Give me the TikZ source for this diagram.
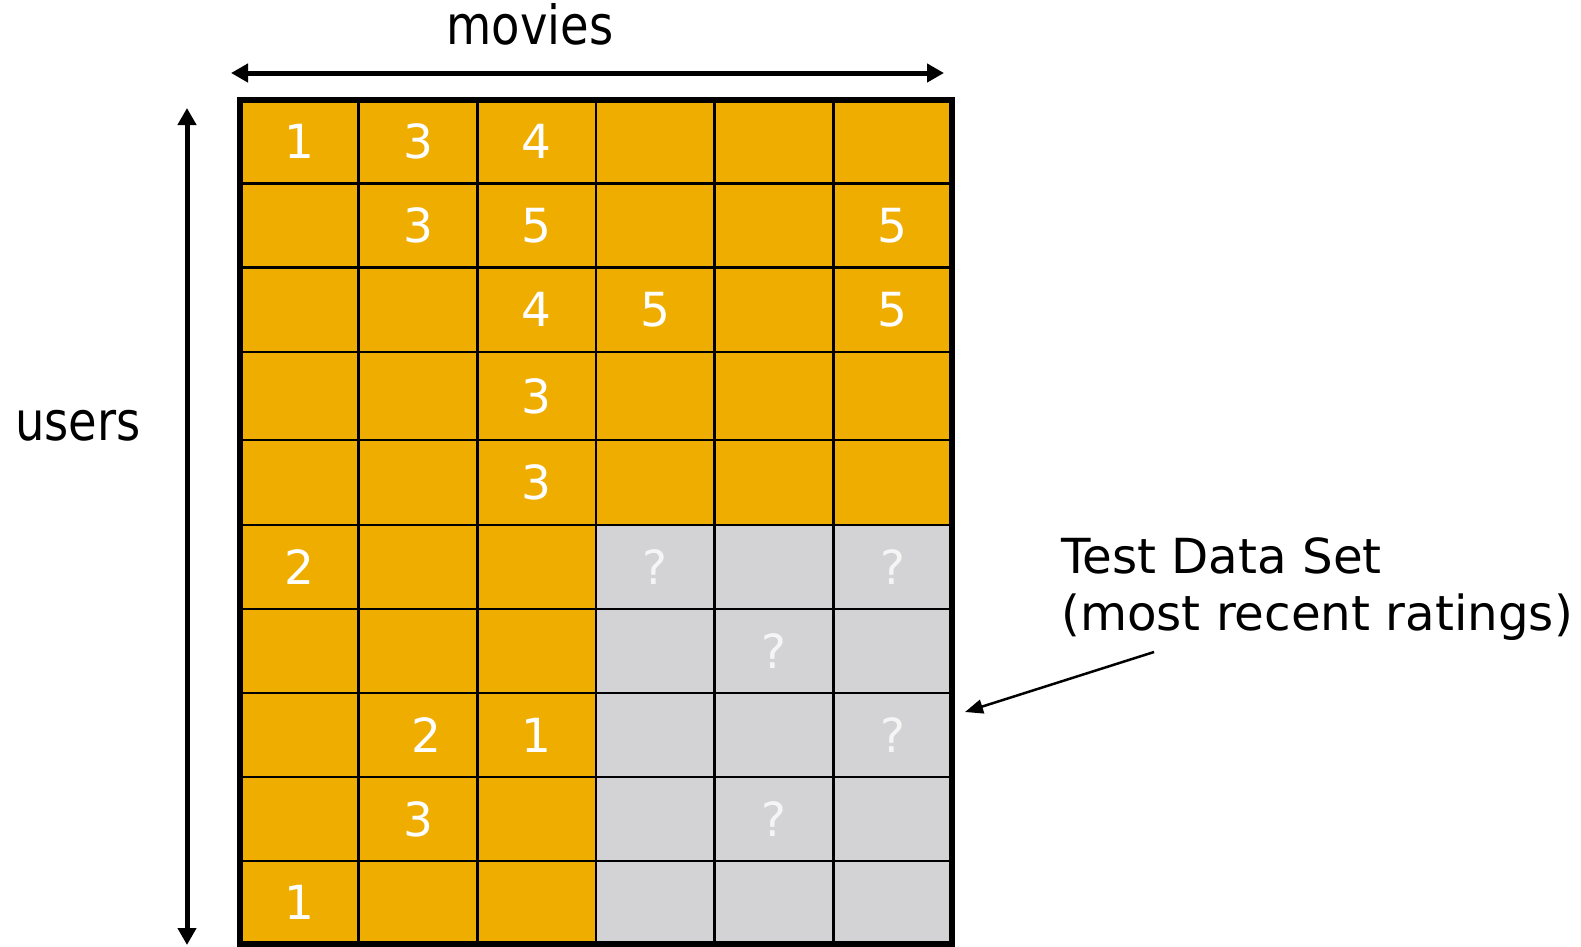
\documentclass[tikz,border=0pt]{standalone}
\usepackage{fontspec}
\setmainfont{DejaVu Sans}
\usetikzlibrary{arrows.meta}
\definecolor{gridorange}{HTML}{EFAD00}
\definecolor{testgray}{HTML}{D3D3D5}
\begin{document}
\begin{tikzpicture}[x=1pt,y=-1pt,
  cellnum/.style={text=white, font=\fontsize{47}{56}\selectfont, inner sep=0pt},
  qmark/.style={text=white!96!black, font=\fontsize{47}{56}\selectfont, inner sep=0pt},
  axislabel/.style={font=\fontsize{54}{64}\selectfont, inner sep=0pt, anchor=base},
  testlabel/.style={font=\fontsize{48.3}{58}\selectfont, inner sep=0pt, anchor=base west},
  bigarrow/.style={line width=5pt, {Triangle[length=17pt,width=18pt]}-{Triangle[length=17pt,width=18pt]}},
  thinarrow/.style={line width=2.5pt, -{Triangle[length=18pt,width=14pt]}},
  gridline/.style={line width=2.5pt, black},
  gridborder/.style={line width=5.5pt, black}
]
\useasboundingbox (0,0) rectangle (1581,946);
\def\cw{118.667}
% fills
\fill[gridorange] (240,100) rectangle (952,944);
\fill[testgray] ({240+3*\cw},525) rectangle (952,944);
% inner grid lines
\foreach \i in {1,...,5} {
  \draw[gridline] ({240+\i*\cw},100) -- ({240+\i*\cw},944);
}
\foreach \y in {183.5,267.5,352,440,525,609,693,777,861} {
  \draw[gridline] (240,\y) -- (952,\y);
}
\draw[gridborder] (240,100) rectangle (952,944);
% ratings (column / row centre y / value)
\foreach \c/\y/\t in {1/141.75/1,2/141.75/3,3/141.75/4,
                      2/225.5/3,3/225.5/5,6/225.5/5,
                      3/309.75/4,4/309.75/5,6/309.75/5,
                      3/396/3,3/482.5/3,1/567/2,3/735/1,2/819/3,1/902.5/1} {
  \node[cellnum] (n\c-\t-\y) at ({240+(\c-0.5)*\cw},\y) {\t};
}
\node[cellnum] (n2-8) at ({248+1.5*\cw},735) {2};
% unknown test ratings
\foreach \c/\y in {4/567,6/567,5/651,6/735,5/819} {
  \node[qmark] (q\c-\y) at ({240+(\c-0.5)*\cw},\y) {?};
}
% axis labels and arrows
\node[axislabel] (movies) at (530,44) {\scalebox{0.86}[1]{movies}};
\node[axislabel] (users) at (78,440) {\scalebox{0.86}[1]{users}};
\coordinate (mL) at (231,73);
\coordinate (mR) at (944,73);
\draw[bigarrow] (mL) -- (mR);
\coordinate (uT) at (187,108);
\coordinate (uB) at (187,945);
\draw[bigarrow] (uT) -- (uB);
% test data set label
\node[testlabel] (test1) at (1061,573) {Test Data Set};
\node[testlabel] (test2) at (1061,630) {(most recent ratings)};
\coordinate (tA) at (1154,652);
\coordinate (tB) at (965,712);
\draw[thinarrow] (tA) -- (tB);
\end{tikzpicture}
\end{document}
